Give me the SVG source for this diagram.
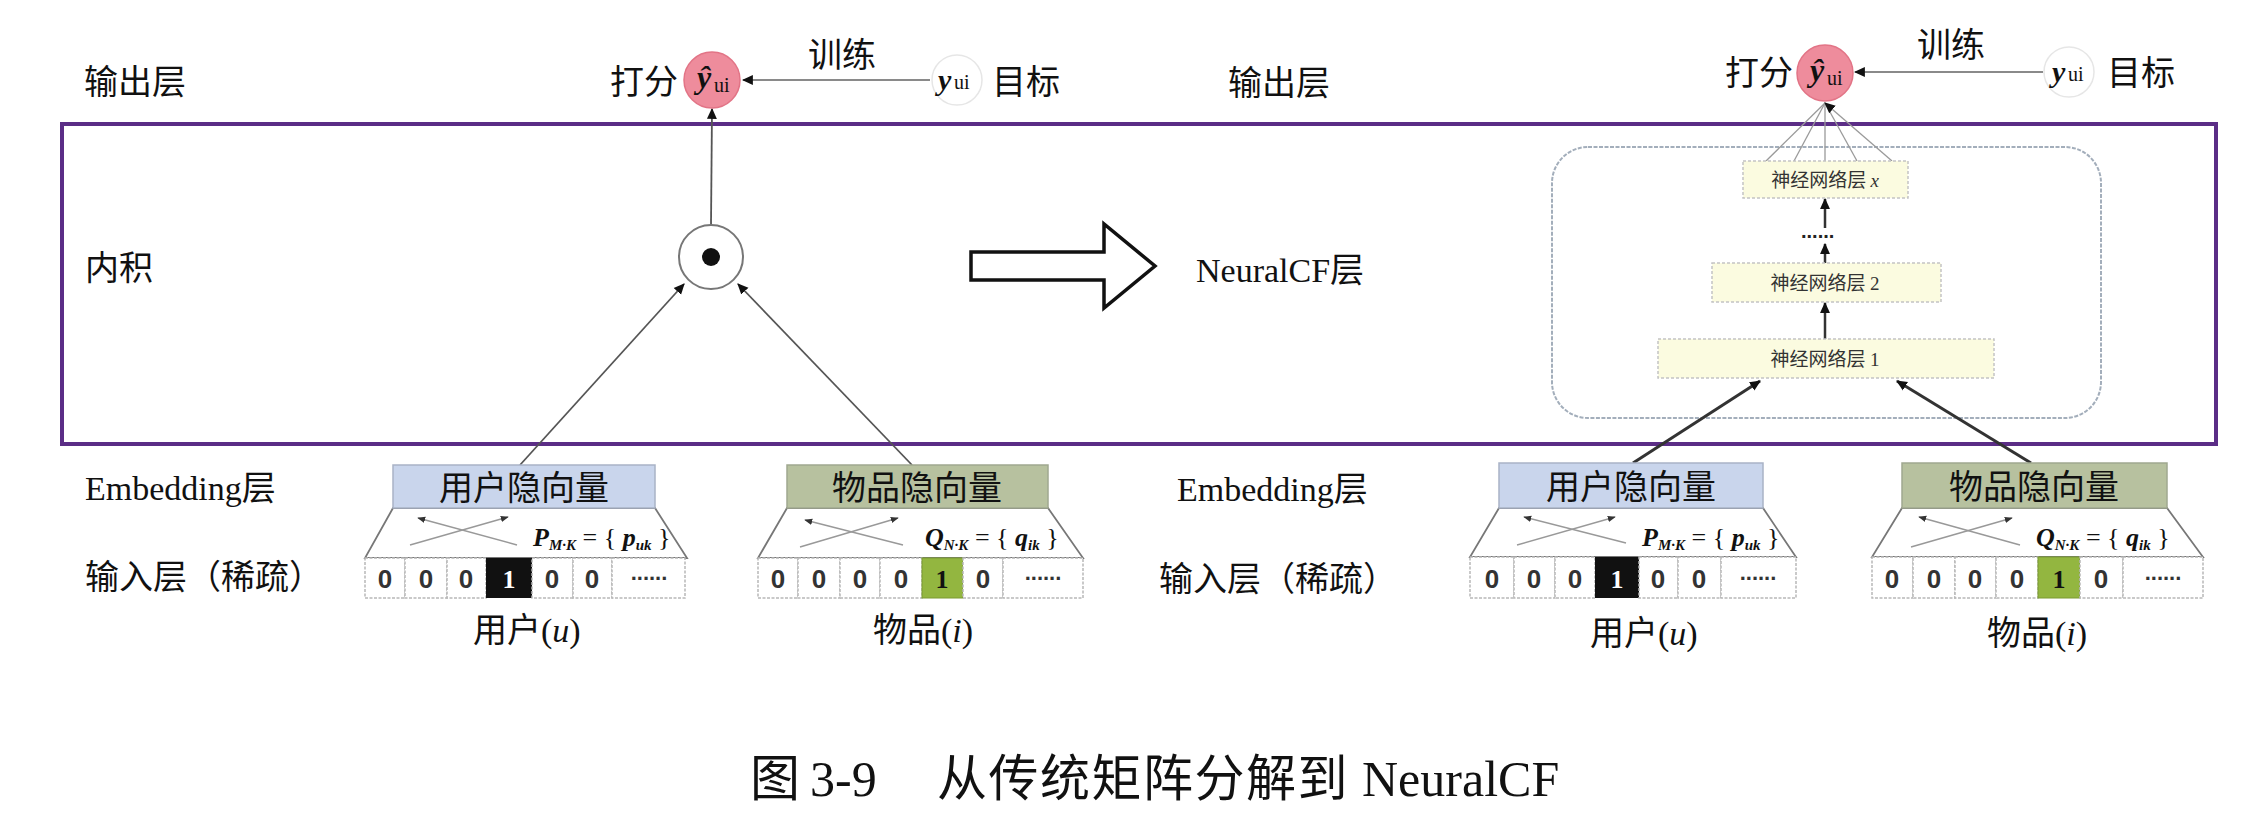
<svg xmlns="http://www.w3.org/2000/svg" width="2268" height="838" viewBox="0 0 2268 838">
<defs>
<style>
.cjk{font-family:"Noto Sans CJK SC","Noto Sans",sans-serif;font-size:34px;fill:#111}
.ser{font-family:"Liberation Serif","Noto Sans CJK SC",serif;font-size:34px;fill:#111}
.it{font-style:italic}
.bi{font-style:italic;font-weight:bold}
.cell{fill:#fff;stroke:#b8b8b8;stroke-width:1.5;stroke-dasharray:3 1.5}
.digit{font-family:"Liberation Sans",sans-serif;font-weight:bold;font-size:26px;fill:#333;text-anchor:middle}
.trap{fill:#fff;stroke:#777;stroke-width:1.8}
.nl{fill:#fbfbe0;stroke:#c4c4c4;stroke-width:1.5;stroke-dasharray:3 2}
.nlt{font-family:"Noto Sans CJK SC",sans-serif;font-size:19px;fill:#333;text-anchor:middle}
.cross{stroke:#999;stroke-width:1.5;fill:none}
.conn{stroke:#555;stroke-width:1.8;fill:none}
.conn2{stroke:#333;stroke-width:3;fill:none}
.train{stroke:#8a8a8a;stroke-width:2.2;fill:none}
.fan{stroke:#9a9a9a;stroke-width:1.3;fill:none}
.pink{fill:#ee8c9c;stroke:#e27486;stroke-width:1.5}
.tgt{fill:#fff;stroke:#e6e6e6;stroke-width:1.5}
.math{font-family:"Liberation Serif",serif;font-size:26px;fill:#111}
.sub{font-size:15px}
.hat{font-family:"Liberation Serif",serif;font-style:italic;font-weight:bold;font-size:32px;fill:#111}
.yt{font-family:"Liberation Serif",serif;font-style:italic;font-weight:bold;font-size:30px;fill:#111}
.ui{font-family:"Liberation Serif",serif;font-size:20px;fill:#111}
</style>
<marker id="arr" viewBox="0 0 10 10" refX="9" refY="5" markerWidth="11" markerHeight="11" markerUnits="userSpaceOnUse" orient="auto-start-reverse"><path d="M0,0.5 L10,5 L0,9.5 z" fill="#111"/></marker>
<marker id="sarr" viewBox="0 0 10 10" refX="9" refY="5" markerWidth="8" markerHeight="8" markerUnits="userSpaceOnUse" orient="auto-start-reverse"><path d="M0,1 L10,5 L0,9 z" fill="#333"/></marker>
</defs>
<rect x="0" y="0" width="2268" height="838" fill="#fff"/>

<g id="frame">
<rect x="62" y="124" width="2154" height="320" fill="none" stroke="#5b2d86" stroke-width="4"/>
<rect x="1552" y="147" width="549" height="271" rx="36" ry="36" fill="none" stroke="#a3aebb" stroke-width="2" stroke-dasharray="4 1.5"/>
</g>

<g id="labels-left">
<text class="cjk" x="84" y="94">输出层</text>
<text class="cjk" x="85" y="280">内积</text>
<text class="ser" x="85" y="500">Embedding层</text>
<text class="cjk" x="85" y="589">输入层（稀疏）</text>
</g>
<g id="labels-right">
<text class="cjk" x="1228" y="95">输出层</text>
<text class="ser" x="1196" y="282">NeuralCF层</text>
<text class="ser" x="1177" y="501">Embedding层</text>
<text class="cjk" x="1159" y="591">输入层（稀疏）</text>
</g>

<g id="connectors">
<line class="train" x1="930" y1="80" x2="743" y2="80" marker-end="url(#arr)"/>
<line class="train" x1="2043" y1="72" x2="1855" y2="72" marker-end="url(#arr)"/>
<line class="conn" x1="711" y1="225" x2="712" y2="109" marker-end="url(#arr)"/>
<line class="conn" x1="520" y1="465" x2="684" y2="284" marker-end="url(#arr)"/>
<line class="conn" x1="912" y1="465" x2="738" y2="284" marker-end="url(#arr)"/>
<line class="conn2" x1="1633" y1="463" x2="1760" y2="381" marker-end="url(#arr)"/>
<line class="conn2" x1="2031" y1="463" x2="1897" y2="381" marker-end="url(#arr)"/>
<line class="conn2" x1="1825" y1="339" x2="1825" y2="303" style="stroke-width:2.5" marker-end="url(#arr)"/>
<line class="conn2" x1="1825" y1="263" x2="1825" y2="244" style="stroke-width:2.5" marker-end="url(#arr)"/>
<line class="conn2" x1="1825" y1="228" x2="1825" y2="199" style="stroke-width:2.5" marker-end="url(#arr)"/>
<line class="fan" x1="1766" y1="161" x2="1825" y2="103"/>
<line class="fan" x1="1794" y1="161" x2="1825" y2="103"/>
<line class="fan" x1="1825" y1="161" x2="1825" y2="103"/>
<line class="fan" x1="1857" y1="161" x2="1825" y2="103"/>
<line class="fan" x1="1892" y1="161" x2="1825" y2="103" marker-end="url(#arr)"/>
</g>

<g id="score-left">
<text class="cjk" x="610" y="94">打分</text>
<circle class="pink" cx="712" cy="80" r="28"/>
<text class="hat" x="697" y="88">ŷ</text>
<text class="ui" x="714" y="92">ui</text>
</g>
<g id="train-left"><text class="cjk" x="808" y="67">训练</text></g>
<g id="target-left">
<circle class="tgt" cx="957" cy="80" r="25"/>
<text class="yt" x="938" y="90">y</text>
<text class="ui" x="954" y="89">ui</text>
<text class="cjk" x="992" y="94">目标</text>
</g>
<g id="dot-product">
<circle cx="711" cy="257" r="32" fill="#fff" stroke="#777" stroke-width="2"/>
<circle cx="711" cy="257" r="9" fill="#111"/>
</g>
<g id="big-arrow">
<path d="M971,252 H1104 V224 L1155,266 L1104,308 V280 H971 Z" fill="#fff" stroke="#111" stroke-width="3.5" stroke-linejoin="miter"/>
</g>

<g id="score-right">
<text class="cjk" x="1725" y="85">打分</text>
<circle class="pink" cx="1825" cy="73" r="28"/>
<text class="hat" x="1810" y="81">ŷ</text>
<text class="ui" x="1827" y="85">ui</text>
</g>
<g id="train-right"><text class="cjk" x="1917" y="57">训练</text></g>
<g id="target-right">
<circle class="tgt" cx="2069" cy="72" r="25"/>
<text class="yt" x="2052" y="82">y</text>
<text class="ui" x="2068" y="81">ui</text>
<text class="cjk" x="2107" y="85">目标</text>
</g>

<g id="layer-x">
<rect class="nl" x="1743" y="161" width="165" height="37"/>
<text class="nlt" x="1825" y="187">神经网络层 <tspan style="font-family:'Liberation Serif';font-style:italic">x</tspan></text>
</g>
<g id="layer-dots"><text style="font-family:'Liberation Sans';font-weight:bold;font-size:20px;fill:#222" x="1801" y="238">......</text></g>
<g id="layer-2">
<rect class="nl" x="1712" y="263" width="229" height="39"/>
<text class="nlt" x="1825" y="290">神经网络层 <tspan style="font-family:'Liberation Serif'">2</tspan></text>
</g>
<g id="layer-1">
<rect class="nl" x="1658" y="339" width="336" height="39"/>
<text class="nlt" x="1825" y="366">神经网络层 <tspan style="font-family:'Liberation Serif'">1</tspan></text>
</g>

<g id="user-left">
<polygon class="trap" points="393,508 655,508 687,558 365,558"/>
<rect x="393" y="465" width="262" height="43" fill="#c9d5ec" stroke="#a9b3c6" stroke-width="1.5"/>
<text class="cjk" x="524" y="500" text-anchor="middle">用户隐向量</text>
<line class="cross" x1="418" y1="518" x2="517" y2="545" marker-start="url(#sarr)"/>
<line class="cross" x1="410" y1="545" x2="508" y2="517" marker-end="url(#sarr)"/>
<text class="math" x="533" y="546"><tspan class="bi">P</tspan><tspan class="bi sub" dy="4">M·K</tspan><tspan dy="-4"> = { </tspan><tspan class="bi">p</tspan><tspan class="bi sub" dy="4">uk</tspan><tspan dy="-4"> }</tspan></text>
<rect class="cell" x="365" y="558" width="40" height="40"/>
<rect class="cell" x="405" y="558" width="42" height="40"/>
<rect class="cell" x="447" y="558" width="39" height="40"/>
<rect x="486" y="558" width="46" height="40" fill="#111"/>
<rect class="cell" x="532" y="558" width="41" height="40"/>
<rect class="cell" x="573" y="558" width="39" height="40"/>
<rect class="cell" x="612" y="558" width="73" height="40"/>
<text class="digit" x="385" y="588">0</text>
<text class="digit" x="426" y="588">0</text>
<text class="digit" x="466" y="588">0</text>
<text class="digit" x="509" y="588" style="fill:#fff;font-family:'Liberation Serif'">1</text>
<text class="digit" x="552" y="588">0</text>
<text class="digit" x="592" y="588">0</text>
<text class="digit" x="649" y="580" style="font-size:22px">......</text>
<text class="cjk" x="473" y="642">用户<tspan style="font-family:'Liberation Serif'">(</tspan><tspan style="font-family:'Liberation Serif';font-style:italic">u</tspan><tspan style="font-family:'Liberation Serif'">)</tspan></text>
</g>

<g id="item-left">
<polygon class="trap" points="787,508 1048,508 1083,558 758,558"/>
<rect x="787" y="465" width="261" height="43" fill="#b7c19f" stroke="#a0a890" stroke-width="1.5"/>
<text class="cjk" x="917" y="500" text-anchor="middle">物品隐向量</text>
<line class="cross" x1="805" y1="520" x2="903" y2="545" marker-start="url(#sarr)"/>
<line class="cross" x1="800" y1="547" x2="898" y2="518" marker-end="url(#sarr)"/>
<text class="math" x="925" y="546"><tspan class="bi">Q</tspan><tspan class="bi sub" dy="4">N·K</tspan><tspan dy="-4"> = { </tspan><tspan class="bi">q</tspan><tspan class="bi sub" dy="4">ik</tspan><tspan dy="-4"> }</tspan></text>
<rect class="cell" x="758" y="558" width="40" height="40"/>
<rect class="cell" x="798" y="558" width="42" height="40"/>
<rect class="cell" x="840" y="558" width="40" height="40"/>
<rect class="cell" x="880" y="558" width="42" height="40"/>
<rect x="922" y="558" width="41" height="40" fill="#93b640" stroke="#7a9a30" stroke-width="1"/>
<rect class="cell" x="963" y="558" width="40" height="40"/>
<rect class="cell" x="1003" y="558" width="80" height="40"/>
<text class="digit" x="778" y="588">0</text>
<text class="digit" x="819" y="588">0</text>
<text class="digit" x="860" y="588">0</text>
<text class="digit" x="901" y="588">0</text>
<text class="digit" x="942" y="588" style="fill:#111;font-family:'Liberation Serif'">1</text>
<text class="digit" x="983" y="588">0</text>
<text class="digit" x="1043" y="580" style="font-size:22px">......</text>
<text class="cjk" x="873" y="642">物品<tspan style="font-family:'Liberation Serif'">(</tspan><tspan style="font-family:'Liberation Serif';font-style:italic">i</tspan><tspan style="font-family:'Liberation Serif'">)</tspan></text>
</g>

<g id="user-right">
<polygon class="trap" points="1499,508 1763,508 1796,557 1470,557"/>
<rect x="1499" y="463" width="264" height="45" fill="#c9d5ec" stroke="#a9b3c6" stroke-width="1.5"/>
<text class="cjk" x="1631" y="499" text-anchor="middle">用户隐向量</text>
<line class="cross" x1="1524" y1="517" x2="1626" y2="543" marker-start="url(#sarr)"/>
<line class="cross" x1="1517" y1="545" x2="1615" y2="517" marker-end="url(#sarr)"/>
<text class="math" x="1642" y="546"><tspan class="bi">P</tspan><tspan class="bi sub" dy="4">M·K</tspan><tspan dy="-4"> = { </tspan><tspan class="bi">p</tspan><tspan class="bi sub" dy="4">uk</tspan><tspan dy="-4"> }</tspan></text>
<rect class="cell" x="1470" y="557" width="44" height="41"/>
<rect class="cell" x="1514" y="557" width="41" height="41"/>
<rect class="cell" x="1555" y="557" width="40" height="41"/>
<rect x="1595" y="557" width="44" height="41" fill="#111"/>
<rect class="cell" x="1639" y="557" width="39" height="41"/>
<rect class="cell" x="1678" y="557" width="43" height="41"/>
<rect class="cell" x="1721" y="557" width="75" height="41"/>
<text class="digit" x="1492" y="588">0</text>
<text class="digit" x="1534" y="588">0</text>
<text class="digit" x="1575" y="588">0</text>
<text class="digit" x="1617" y="588" style="fill:#fff;font-family:'Liberation Serif'">1</text>
<text class="digit" x="1658" y="588">0</text>
<text class="digit" x="1699" y="588">0</text>
<text class="digit" x="1758" y="580" style="font-size:22px">......</text>
<text class="cjk" x="1590" y="645">用户<tspan style="font-family:'Liberation Serif'">(</tspan><tspan style="font-family:'Liberation Serif';font-style:italic">u</tspan><tspan style="font-family:'Liberation Serif'">)</tspan></text>
</g>

<g id="item-right">
<polygon class="trap" points="1902,508 2167,508 2203,557 1872,557"/>
<rect x="1902" y="463" width="265" height="45" fill="#b7c19f" stroke="#a0a890" stroke-width="1.5"/>
<text class="cjk" x="2034" y="499" text-anchor="middle">物品隐向量</text>
<line class="cross" x1="1919" y1="517" x2="2020" y2="545" marker-start="url(#sarr)"/>
<line class="cross" x1="1911" y1="547" x2="2012" y2="518" marker-end="url(#sarr)"/>
<text class="math" x="2036" y="546"><tspan class="bi">Q</tspan><tspan class="bi sub" dy="4">N·K</tspan><tspan dy="-4"> = { </tspan><tspan class="bi">q</tspan><tspan class="bi sub" dy="4">ik</tspan><tspan dy="-4"> }</tspan></text>
<rect class="cell" x="1872" y="557" width="41" height="41"/>
<rect class="cell" x="1913" y="557" width="42" height="41"/>
<rect class="cell" x="1955" y="557" width="41" height="41"/>
<rect class="cell" x="1996" y="557" width="42" height="41"/>
<rect x="2038" y="557" width="42" height="41" fill="#93b640" stroke="#7a9a30" stroke-width="1"/>
<rect class="cell" x="2080" y="557" width="43" height="41"/>
<rect class="cell" x="2123" y="557" width="80" height="41"/>
<text class="digit" x="1892" y="588">0</text>
<text class="digit" x="1934" y="588">0</text>
<text class="digit" x="1975" y="588">0</text>
<text class="digit" x="2017" y="588">0</text>
<text class="digit" x="2059" y="588" style="fill:#111;font-family:'Liberation Serif'">1</text>
<text class="digit" x="2101" y="588">0</text>
<text class="digit" x="2163" y="580" style="font-size:22px">......</text>
<text class="cjk" x="1987" y="645">物品<tspan style="font-family:'Liberation Serif'">(</tspan><tspan style="font-family:'Liberation Serif';font-style:italic">i</tspan><tspan style="font-family:'Liberation Serif'">)</tspan></text>
</g>

<g id="caption">
<text class="cjk" style="font-size:50px" y="796"><tspan x="750">图</tspan><tspan x="810" style="font-family:'Liberation Serif'">3-9</tspan><tspan x="937" style="letter-spacing:1.5px">从传统矩阵分解到</tspan><tspan x="1362" style="font-family:'Liberation Serif'">NeuralCF</tspan></text>
</g>
</svg>
